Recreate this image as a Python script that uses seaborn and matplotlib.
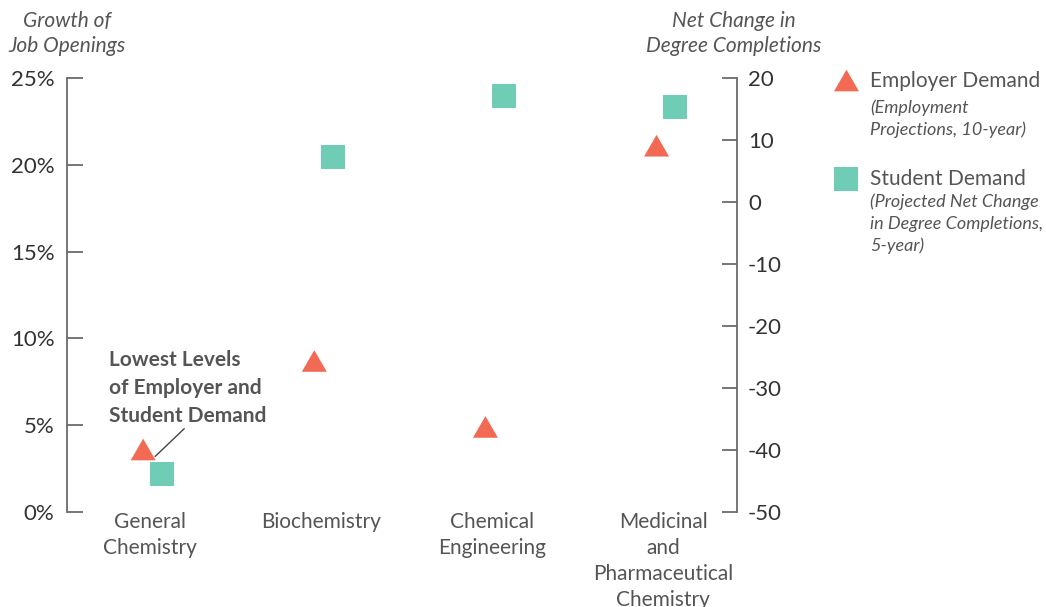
import numpy as np
import matplotlib.pyplot as plt
import seaborn as sns
from matplotlib.path import Path
from matplotlib.lines import Line2D

# data
categories = ["General\nChemistry", "Biochemistry", "Chemical\nEngineering",
              "Medicinal\nand\nPharmaceutical\nChemistry"]
job_growth_pct = [3.6, 8.7, 4.9, 21.1]        # employer demand, left axis
degree_change = [-43.9, 7.2, 17.1, 15.4]      # student demand, right axis
left_ticks = [0, 5, 10, 15, 20, 25]
left_tick_labels = ["0%", "5%", "10%", "15%", "20%", "25%"]
right_ticks = [-50, -40, -30, -20, -10, 0, 10, 20]
right_tick_labels = ["-50", "-40", "-30", "-20", "-10", "0", "10", "20"]

TRI_COLOR = "#F26A54"
SQ_COLOR = "#6ECDB4"
AXIS_GRAY = "#6b6b6b"
TEXT_GRAY = "#555555"
FONT = ["Lato", "DejaVu Sans"]
W, H = 1046, 607

sns.set_style("white")
plt.rcParams["font.family"] = FONT

tri = Path([(-1, -0.866), (1, -0.866), (0, 0.866), (-1, -0.866)],
           [Path.MOVETO, Path.LINETO, Path.LINETO, Path.CLOSEPOLY])


def text_lines(fig, x_px, first_baseline_px, lines, step_px, **kw):
    for i, line in enumerate(lines):
        fig.text(x_px / W, 1 - (first_baseline_px + i * step_px) / H, line,
                 va="baseline", **kw)


def main():
    fig = plt.figure(figsize=(W / 100, H / 100), dpi=100)
    ax = fig.add_axes([67 / W, 1 - 512 / H, 670 / W, 434 / H])
    ax2 = ax.twinx()

    x = np.arange(len(categories))
    sns.scatterplot(x=x - 0.04, y=job_growth_pct, marker=tri, s=324,
                    color=TRI_COLOR, edgecolor="none", linewidth=0, ax=ax, zorder=3)
    sns.scatterplot(x=x + 0.07, y=degree_change, marker="s", s=298,
                    color=SQ_COLOR, edgecolor="none", linewidth=0, ax=ax2, zorder=3)

    ax.set_xlim(-0.485, 3.43)
    ax.set_ylim(0, 25)
    ax2.set_ylim(-50, 20)

    for a in (ax, ax2):
        for s in a.spines.values():
            s.set_visible(False)
        a.grid(False)
        a.set_xlabel("")
        a.set_ylabel("")
    ax.spines["left"].set_visible(True)
    ax.spines["left"].set_color(AXIS_GRAY)
    ax.spines["left"].set_linewidth(1.3)
    ax2.spines["right"].set_visible(True)
    ax2.spines["right"].set_color(AXIS_GRAY)
    ax2.spines["right"].set_linewidth(1.3)

    ax.set_yticks(left_ticks)
    ax.set_yticklabels(left_tick_labels)
    ax.tick_params(axis="y", direction="in", length=11.5, width=1.3,
                   color=AXIS_GRAY, pad=9, labelsize=16, labelcolor="#333333")
    ax2.set_yticks(right_ticks)
    ax2.set_yticklabels(right_tick_labels)
    ax2.tick_params(axis="y", direction="in", length=11, width=1.3,
                    color=AXIS_GRAY, pad=8, labelsize=16, labelcolor="#333333")

    ax.set_xticks(x)
    ax.set_xticklabels(categories, linespacing=1.38)
    ax.tick_params(axis="x", length=0, pad=0, labelsize=15, labelcolor=TEXT_GRAY)

    # axis titles
    title_kw = dict(ha="center", fontsize=15, style="italic", color=TEXT_GRAY)
    text_lines(fig, 67, 27, ["Growth of", "Job Openings"], 25, **title_kw)
    text_lines(fig, 734, 27, ["Net Change in", "Degree Completions"], 25, **title_kw)

    # annotation
    ax.text(-0.24, 9.35, "Lowest Levels\nof Employer and\nStudent Demand",
            ha="left", va="top", fontsize=15, fontweight="bold",
            color=TEXT_GRAY, linespacing=1.5)
    ax.annotate("", xy=(0.03, 3.2), xytext=(0.2, 4.8),
                arrowprops=dict(arrowstyle="-", color="#444444", lw=1.0,
                                shrinkA=0, shrinkB=0))

    # legend
    fig.add_artist(Line2D([846 / W], [1 - 80.3 / H], marker=tri, markersize=18,
                          color=TRI_COLOR, markeredgewidth=0, linestyle="none",
                          transform=fig.transFigure))
    fig.add_artist(Line2D([846 / W], [1 - 179 / H], marker="s", markersize=17.3,
                          color=SQ_COLOR, markeredgewidth=0, linestyle="none",
                          transform=fig.transFigure))
    head_kw = dict(fontsize=15, color=TEXT_GRAY)
    sub_kw = dict(fontsize=13, style="italic", color=TEXT_GRAY)
    text_lines(fig, 870, 87, ["Employer Demand"], 0, **head_kw)
    text_lines(fig, 870, 113, ["(Employment", "Projections, 10-year)"], 22, **sub_kw)
    text_lines(fig, 870, 185, ["Student Demand"], 0, **head_kw)
    text_lines(fig, 870, 207, ["(Projected Net Change", "in Degree Completions,",
                               "5-year)"], 22, **sub_kw)

    fig.savefig("out.png", dpi=100)


if __name__ == "__main__":
    main()
